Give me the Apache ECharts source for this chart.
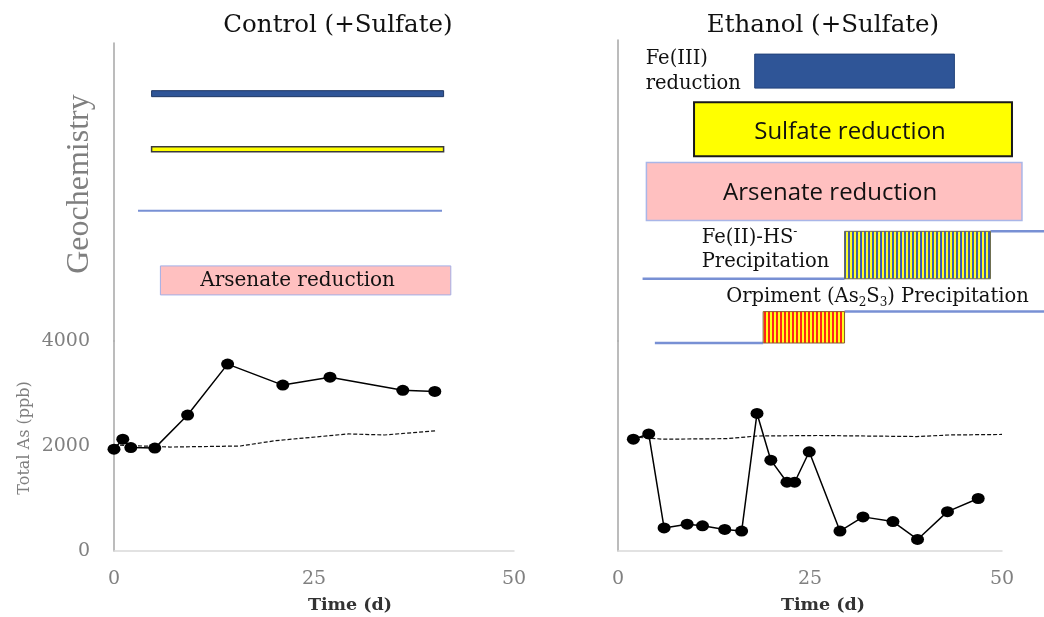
<!DOCTYPE html>
<html>
<head>
<meta charset="utf-8">
<script src="https://cdn.jsdelivr.net/npm/echarts@6/dist/echarts.min.js"></script>
<style>
  html, body { margin: 0; padding: 0; background: #ffffff; }
  #chart { width: 1044px; height: 617px; }
</style>
</head>
<body>
<div id="chart"></div>
<script>
// Total dissolved arsenic (ppb) versus incubation time (d)
const controlDays = [0, 1.1, 2.1, 5.1, 9.2, 14.2, 21.1, 27.0, 36.1, 40.1];
const controlAs = [1940, 2130, 1970, 1960, 2590, 3560, 3160, 3310, 3060, 3040];
const controlRefDays = [0, 7, 15.8, 20.1, 29.3, 33.8, 40.2];
const controlRefAs = [2020, 1980, 2000, 2100, 2230, 2210, 2290];

const ethanolDays = [2.0, 4.0, 6.0, 9.0, 11.0, 13.9, 16.1, 18.1, 19.9, 22.0, 23.0, 24.9, 28.9, 31.9, 35.8, 39.0, 42.9, 46.9];
const ethanolAs = [2130, 2230, 440, 510, 480, 410, 380, 2620, 1730, 1310, 1310, 1890, 380, 650, 560, 220, 750, 1000];
const ethanolRefDays = [2.0, 5.9, 14.1, 18.1, 25.9, 38.9, 43.2, 50];
const ethanolRefAs = [2170, 2130, 2140, 2190, 2200, 2180, 2210, 2220];

const timeTicks = [0, 25, 50];
const asTicks = [0, 2000, 4000];

// Geochemical process windows (days)
const controlProcesses = ['Fe(III) reduction', 'Sulfate reduction', 'Fe(II)-HS- precipitation', 'Arsenate reduction'];
const controlStart = [4.7, 4.7, 3.0, 5.8];
const controlEnd = [41.2, 41.2, 41.0, 42.1];

const ethanolProcesses = ['Fe(III) reduction', 'Sulfate reduction', 'Arsenate reduction', 'Fe(II)-HS- precipitation', 'Orpiment (As2S3) precipitation'];
const ethanolStart = [17.8, 9.9, 3.7, 29.5, 18.9];
const ethanolEnd = [43.8, 51.3, 52.6, 48.5, 29.5];
// flat baselines drawn before and after each precipitation window
const ethanolBaseFrom = [null, null, null, 3.2, 4.8];
const ethanolBaseTo = [null, null, null, 55.5, 55.5];

// ---- styling / layout of the process lanes ----
const SERIF = '"DejaVu Serif", serif';
const SANS = '"Open Sans", sans-serif';
const BLUE = '#2f5597';
const LINE_BLUE = '#7890d4';

function stripePattern(a, b, wa, wb) {
  const c = document.createElement('canvas');
  c.width = wa + wb; c.height = 4;
  const g = c.getContext('2d');
  g.fillStyle = a; g.fillRect(0, 0, wa, 4);
  g.fillStyle = b; g.fillRect(wa, 0, wb, 4);
  return { type: 'pattern', image: c, repeat: 'repeat' };
}

const controlLayout = [
  { kind: 'bar', lane: 5.1, h: 6, fill: BLUE, stroke: '#1f3864', lw: 1 },
  { kind: 'bar', lane: 10.7, h: 5, fill: '#ffff00', stroke: '#3a3a3a', lw: 1.5 },
  { kind: 'line', lane: 16.9, stroke: LINE_BLUE, lw: 2 },
  { kind: 'box', lane: 23.9, h: 29, fill: '#ffc0c0', stroke: '#a3aee6', lw: 1,
    text: 'Arsenate reduction', font: '20px ' + SERIF, dx: -8, dy: 0 }
];

const ethanolLayout = [
  { kind: 'box', lane: 3.1, h: 34, fill: BLUE, stroke: '#22427a', lw: 1,
    label: { text: 'Fe(III)\nreduction', day: 3.6, lane: 3.1, lineHeight: 25, font: '19.5px ' + SERIF } },
  { kind: 'box', lane: 8.9, h: 54, fill: '#ffff00', stroke: '#1a1a1a', lw: 2,
    text: 'Sulfate reduction', font: '24px ' + SANS, dx: -3, dy: 3 },
  { kind: 'box', lane: 15.1, h: 58, fill: '#ffc0c0', stroke: '#a9b6e8', lw: 1.5,
    text: 'Arsenate reduction', font: '24px ' + SANS, dx: -4, dy: 2 },
  { kind: 'step', low: 23.8, high: 19.07, fill: stripePattern('#3f5ea8', '#ffff2a', 2, 2), stroke: '#6b6b50',
    label: { rich: '{n|Fe(II)-HS}{sup|-}\n{n|Precipitation}', day: 10.9, lane: 20.9 } },
  { kind: 'step', low: 30.2, high: 27.07, fill: stripePattern('#ff2418', '#ffff1a', 2, 2), stroke: '#8a5a30',
    label: { rich: '{n|Orpiment (As}{sub|2}{n|S}{sub|3}{n|) Precipitation}', day: 14.1, lane: 25.6 } }
];

const richStyles = {
  n: { font: '19.5px ' + SERIF, fill: '#111', lineHeight: 24 },
  sup: { font: '12px ' + SERIF, fill: '#111', lineHeight: 24, verticalAlign: 'top', padding: [0, 0, 8, 0] },
  sub: { font: '12px ' + SERIF, fill: '#111', lineHeight: 24, verticalAlign: 'bottom', padding: [6, 0, 0, 0] }
};

function labelElement(lbl, api) {
  const p = api.coord([lbl.day, lbl.lane]);
  const style = { fill: '#111', align: 'left', verticalAlign: 'middle' };
  if (lbl.rich) {
    style.text = lbl.rich;
    style.rich = richStyles;
  } else {
    style.text = lbl.text;
    style.font = lbl.font;
    style.lineHeight = lbl.lineHeight;
  }
  return { type: 'text', x: p[0], y: p[1], style: style };
}

function processRenderer(layout) {
  return function (params, api) {
    const idx = api.value(2);
    const spec = layout[idx];
    const x0 = api.coord([api.value(0), 0])[0];
    const x1 = api.coord([api.value(1), 0])[0];
    const children = [];
    if (spec.kind === 'bar' || spec.kind === 'box') {
      const yc = api.coord([0, spec.lane])[1];
      children.push({
        type: 'rect',
        shape: { x: x0, y: yc - spec.h / 2, width: x1 - x0, height: spec.h },
        style: { fill: spec.fill, stroke: spec.stroke, lineWidth: spec.lw }
      });
      if (spec.text) {
        children.push({
          type: 'text', x: (x0 + x1) / 2 + (spec.dx || 0), y: yc + (spec.dy || 0),
          style: { text: spec.text, font: spec.font, fill: '#111', align: 'center', verticalAlign: 'middle' }
        });
      }
    } else if (spec.kind === 'line') {
      const yc = api.coord([0, spec.lane])[1];
      children.push({
        type: 'line', shape: { x1: x0, y1: yc, x2: x1, y2: yc },
        style: { stroke: spec.stroke, lineWidth: spec.lw }
      });
    } else if (spec.kind === 'step') {
      const yLow = api.coord([0, spec.low])[1];
      const yHigh = api.coord([0, spec.high])[1];
      const bx0 = api.coord([api.value(3), 0])[0];
      const bx1 = api.coord([api.value(4), 0])[0];
      children.push({
        type: 'line', shape: { x1: bx0, y1: yLow, x2: x0, y2: yLow },
        style: { stroke: LINE_BLUE, lineWidth: 2.5 }
      });
      children.push({
        type: 'line', shape: { x1: x1, y1: yHigh, x2: bx1, y2: yHigh },
        style: { stroke: LINE_BLUE, lineWidth: 2.5 }
      });
      children.push({
        type: 'rect',
        shape: { x: x0, y: yHigh, width: x1 - x0, height: yLow - yHigh },
        style: { fill: spec.fill, stroke: spec.stroke, lineWidth: 1 }
      });
    }
    if (spec.label) children.push(labelElement(spec.label, api));
    return { type: 'group', children: children };
  };
}

const controlWindows = controlStart.map((s, i) => [s, controlEnd[i], i]);
const ethanolWindows = ethanolStart.map((s, i) => [s, ethanolEnd[i], i, ethanolBaseFrom[i], ethanolBaseTo[i]]);

const pairs = (xs, ys) => xs.map((x, i) => [x, ys[i]]);

const axisGray = '#a6a6a6';
const tickGray = '#808080';

function timeAxis(gridIndex, showLabels, namePad) {
  return {
    type: 'value', gridIndex: gridIndex, min: timeTicks[0], max: timeTicks[timeTicks.length - 1],
    interval: timeTicks[1] - timeTicks[0],
    show: showLabels,
    axisLine: { show: showLabels, lineStyle: { color: '#d9d9d9', width: 1.5 } },
    axisTick: { show: false },
    splitLine: { show: false },
    axisLabel: { show: showLabels, color: tickGray, fontFamily: SERIF, fontSize: 19, margin: 19 },
    name: showLabels ? 'Time (d)' : '',
    nameLocation: 'middle', nameGap: 45,
    nameTextStyle: { color: '#333', fontFamily: SERIF, fontSize: 17.5, fontWeight: 'bold', padding: [0, 0, 0, namePad] }
  };
}

function laneAxis(gridIndex, name) {
  return {
    type: 'value', gridIndex: gridIndex, min: 0, max: 30, inverse: true,
    axisLine: { show: true, onZero: false, lineStyle: { color: axisGray, width: 1.5 } },
    axisTick: { show: false }, axisLabel: { show: false }, splitLine: { show: false },
    name: name, nameLocation: 'middle', nameGap: 18, nameRotate: 90,
    nameTextStyle: { color: '#7f7f7f', fontFamily: '"Liberation Serif", serif', fontSize: 32, padding: [0, 0, 0, 16] }
  };
}

function asAxis(gridIndex, showLabels) {
  return {
    type: 'value', gridIndex: gridIndex, min: asTicks[0], max: asTicks[asTicks.length - 1],
    interval: asTicks[1] - asTicks[0],
    axisLine: { show: true, lineStyle: { color: axisGray, width: 1.5 } },
    axisTick: { show: false }, splitLine: { show: false },
    axisLabel: { show: showLabels, color: tickGray, fontFamily: SERIF, fontSize: 19, margin: 24,
      formatter: (v) => String(v) },
    name: showLabels ? 'Total As (ppb)' : '',
    nameLocation: 'middle', nameGap: 81,
    nameTextStyle: { color: '#7f7f7f', fontFamily: SERIF, fontSize: 16, padding: [0, 0, 0, 16] }
  };
}

function asLine(gridIdx, xs, ys) {
  return {
    type: 'line', xAxisIndex: gridIdx, yAxisIndex: gridIdx, data: pairs(xs, ys),
    symbol: 'circle', symbolSize: [13, 11], itemStyle: { color: '#000' },
    lineStyle: { color: '#000', width: 1.5 }, z: 5, silent: true
  };
}

function refLine(gridIdx, xs, ys) {
  return {
    type: 'line', xAxisIndex: gridIdx, yAxisIndex: gridIdx, data: pairs(xs, ys),
    showSymbol: false, symbol: 'none',
    lineStyle: { color: '#111', width: 1.2, type: [4, 2] }, z: 4, silent: true
  };
}

const option = {
  animation: false,
  backgroundColor: '#ffffff',
  title: [
    { text: 'Control (+Sulfate)', left: 333, top: 8, textAlign: 'center',
      textStyle: { fontFamily: SERIF, fontSize: 24.5, fontWeight: 'normal', color: '#111' } },
    { text: 'Ethanol (+Sulfate)', left: 818, top: 8, textAlign: 'center',
      textStyle: { fontFamily: SERIF, fontSize: 24.5, fontWeight: 'normal', color: '#111' } }
  ],
  grid: [
    { left: 114, width: 400, top: 341, height: 210 },   // control: total As
    { left: 114, width: 400, top: 43, height: 298 },    // control: processes
    { left: 618, width: 384, top: 341, height: 210 },   // ethanol: total As
    { left: 618, width: 384, top: 40, height: 301 }     // ethanol: processes
  ],
  xAxis: [
    timeAxis(0, true, 72),
    timeAxis(1, false, 0),
    timeAxis(2, true, 26),
    timeAxis(3, false, 0)
  ],
  yAxis: [
    asAxis(0, true),
    laneAxis(1, 'Geochemistry'),
    asAxis(2, false),
    laneAxis(3, '')
  ],
  series: [
    refLine(0, controlRefDays, controlRefAs),
    asLine(0, controlDays, controlAs),
    refLine(2, ethanolRefDays, ethanolRefAs),
    asLine(2, ethanolDays, ethanolAs),
    {
      type: 'custom', name: 'Control processes', xAxisIndex: 1, yAxisIndex: 1,
      data: controlWindows, encode: { x: [0, 1], y: 2 }, clip: false, silent: true,
      renderItem: processRenderer(controlLayout)
    },
    {
      type: 'custom', name: 'Ethanol processes', xAxisIndex: 3, yAxisIndex: 3,
      data: ethanolWindows, encode: { x: [0, 1], y: 2 }, clip: false, silent: true,
      renderItem: processRenderer(ethanolLayout)
    }
  ]
};

const chart = echarts.init(document.getElementById('chart'), null, { renderer: 'canvas' });
chart.setOption(option);
</script>
</body>
</html>
